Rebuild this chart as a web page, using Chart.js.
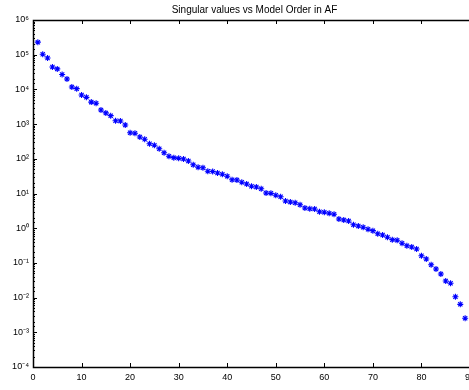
<!DOCTYPE html>
<html>
<head>
<meta charset="utf-8">
<script src="https://cdn.jsdelivr.net/npm/chart.js@4/dist/chart.umd.min.js"></script>
<style>
  html, body { margin: 0; padding: 0; background: #fff; overflow: hidden; }
  #wrap { width: 469px; height: 390px; overflow: hidden; }
</style>
</head>
<body>
<div id="wrap"><canvas id="myCanvas" width="480" height="390"></canvas></div>
<script>
var titolo = 'Singular values vs Model Order in AF';

var modelOrder = [];
for (var i = 1; i <= 89; i++) modelOrder.push(i);

var singularValues = [
  2.3e5, 1.03e5, 8.0e4, 4.4e4, 3.9e4, 2.7e4, 2.0e4, 1.17e4, 1.05e4, 6.9e3,
  5.9e3, 4.3e3, 4.0e3, 2.55e3, 2.1e3, 1.75e3, 1.25e3, 1.23e3, 942, 565,
  543, 425, 365, 272, 245, 195, 150, 118, 108, 103,
  98.6, 86.4, 67.6, 56.9, 55, 43.6, 43, 39, 35.7, 31.3,
  25, 24.5, 21, 18.8, 16.1, 15.4, 13.7, 10.3, 10.1, 8.9,
  8.1, 6.08, 5.69, 5.43, 4.76, 3.82, 3.65, 3.57, 2.99, 2.87,
  2.69, 2.52, 1.84, 1.72, 1.61, 1.26, 1.16, 1.06, 0.93, 0.85,
  0.695, 0.637, 0.547, 0.467, 0.448, 0.367, 0.313, 0.287, 0.252, 0.161,
  0.129, 0.0887, 0.0667, 0.0479, 0.0301, 0.0258, 0.0106, 0.0064, 0.00253
];

var xTicks = [0, 10, 20, 30, 40, 50, 60, 70, 80, 90];
var yTicks = [1e-4, 1e-3, 1e-2, 1e-1, 1, 1e1, 1e2, 1e3, 1e4, 1e5, 1e6];

var sup = { '0': '\u2070', '1': '\u00b9', '2': '\u00b2', '3': '\u00b3', '4': '\u2074',
  '5': '\u2075', '6': '\u2076', '7': '\u2077', '8': '\u2078', '9': '\u2079', '-': '\u207b' };

function isDecade(v) {
  var l = Math.log10(v);
  return Math.abs(l - Math.round(l)) < 1e-6;
}
function decadeLabel(v) {
  var e = String(Math.round(Math.log10(v)));
  return '10' + e.split('').map(function (c) { return sup[c]; }).join('');
}

var punti = modelOrder.map(function (x, k) { return { x: x, y: singularValues[k] }; });

var font = 'Liberation Sans, Arial, Helvetica, sans-serif';

// bordo e tacche verso l'interno, stile MATLAB
var assi = {
  id: 'assi',
  afterDraw: function (chart) {
    var ctx = chart.ctx, a = chart.chartArea;
    var xs = chart.scales.x, ys = chart.scales.y;
    ctx.save();
    ctx.strokeStyle = '#000';
    ctx.lineWidth = 1;
    ctx.beginPath();
    xTicks.forEach(function (v) {
      var px = Math.round(xs.getPixelForValue(v)) + 0.5;
      ctx.moveTo(px, a.bottom); ctx.lineTo(px, a.bottom - 4);
      ctx.moveTo(px, a.top); ctx.lineTo(px, a.top + 4);
    });
    ys.ticks.forEach(function (t) {
      var py = Math.round(ys.getPixelForValue(t.value)) + 0.5;
      var len = isDecade(t.value) ? 4 : 2;
      ctx.moveTo(a.left, py); ctx.lineTo(a.left + len, py);
    });
    ctx.stroke();
    ctx.lineWidth = 1.5;
    ctx.beginPath();
    ctx.moveTo(a.right + 20, a.top + 0.5);
    ctx.lineTo(a.left + 0.5, a.top + 0.5);
    ctx.lineTo(a.left + 0.5, a.bottom + 0.5);
    ctx.lineTo(a.right + 20, a.bottom + 0.5);
    ctx.stroke();
    ctx.fillStyle = '#000';
    ctx.font = '10px ' + font;
    ctx.textAlign = 'center';
    ctx.textBaseline = 'middle';
    ctx.fillText(titolo, (a.left + a.right) / 2 + 3, 10);
    ctx.restore();
  }
};

var myCanvas = document.querySelector('#myCanvas').getContext('2d');
var chart = new Chart(myCanvas, {
  type: 'scatter',
  data: {
    datasets: [
      {
        label: 'Singular values',
        data: punti,
        showLine: false,
        pointStyle: 'star',
        radius: 3,
        borderColor: '#0000ff',
        backgroundColor: '#0000ff',
        borderWidth: 1.1
      }
    ]
  },
  options: {
    responsive: false,
    animation: false,
    layout: { padding: { top: 20, right: 7, left: 0, bottom: 0 } },
    plugins: {
      legend: { display: false },
      tooltip: { enabled: false },
      title: { display: false }
    },
    scales: {
      x: {
        type: 'linear',
        min: 0,
        max: 90,
        border: { display: false },
        grid: { display: false, drawTicks: false },
        afterFit: function (s) { s.height = 23; },
        afterBuildTicks: function (s) { s.ticks = xTicks.map(function (v) { return { value: v }; }); },
        ticks: {
          padding: 5,
          color: '#000',
          font: { family: font, size: 9 },
          maxRotation: 0
        }
      },
      y: {
        type: 'logarithmic',
        min: 1e-4,
        max: 1e6,
        border: { display: false },
        grid: { display: false, drawTicks: false },
        afterFit: function (s) { s.width = 33; },
        ticks: {
          autoSkip: false,
          padding: 4,
          color: '#000',
          font: { family: font, size: 9 },
          callback: function (v) { return isDecade(v) ? decadeLabel(v) : ''; }
        }
      }
    }
  },
  plugins: [assi]
});
</script>
</body>
</html>
